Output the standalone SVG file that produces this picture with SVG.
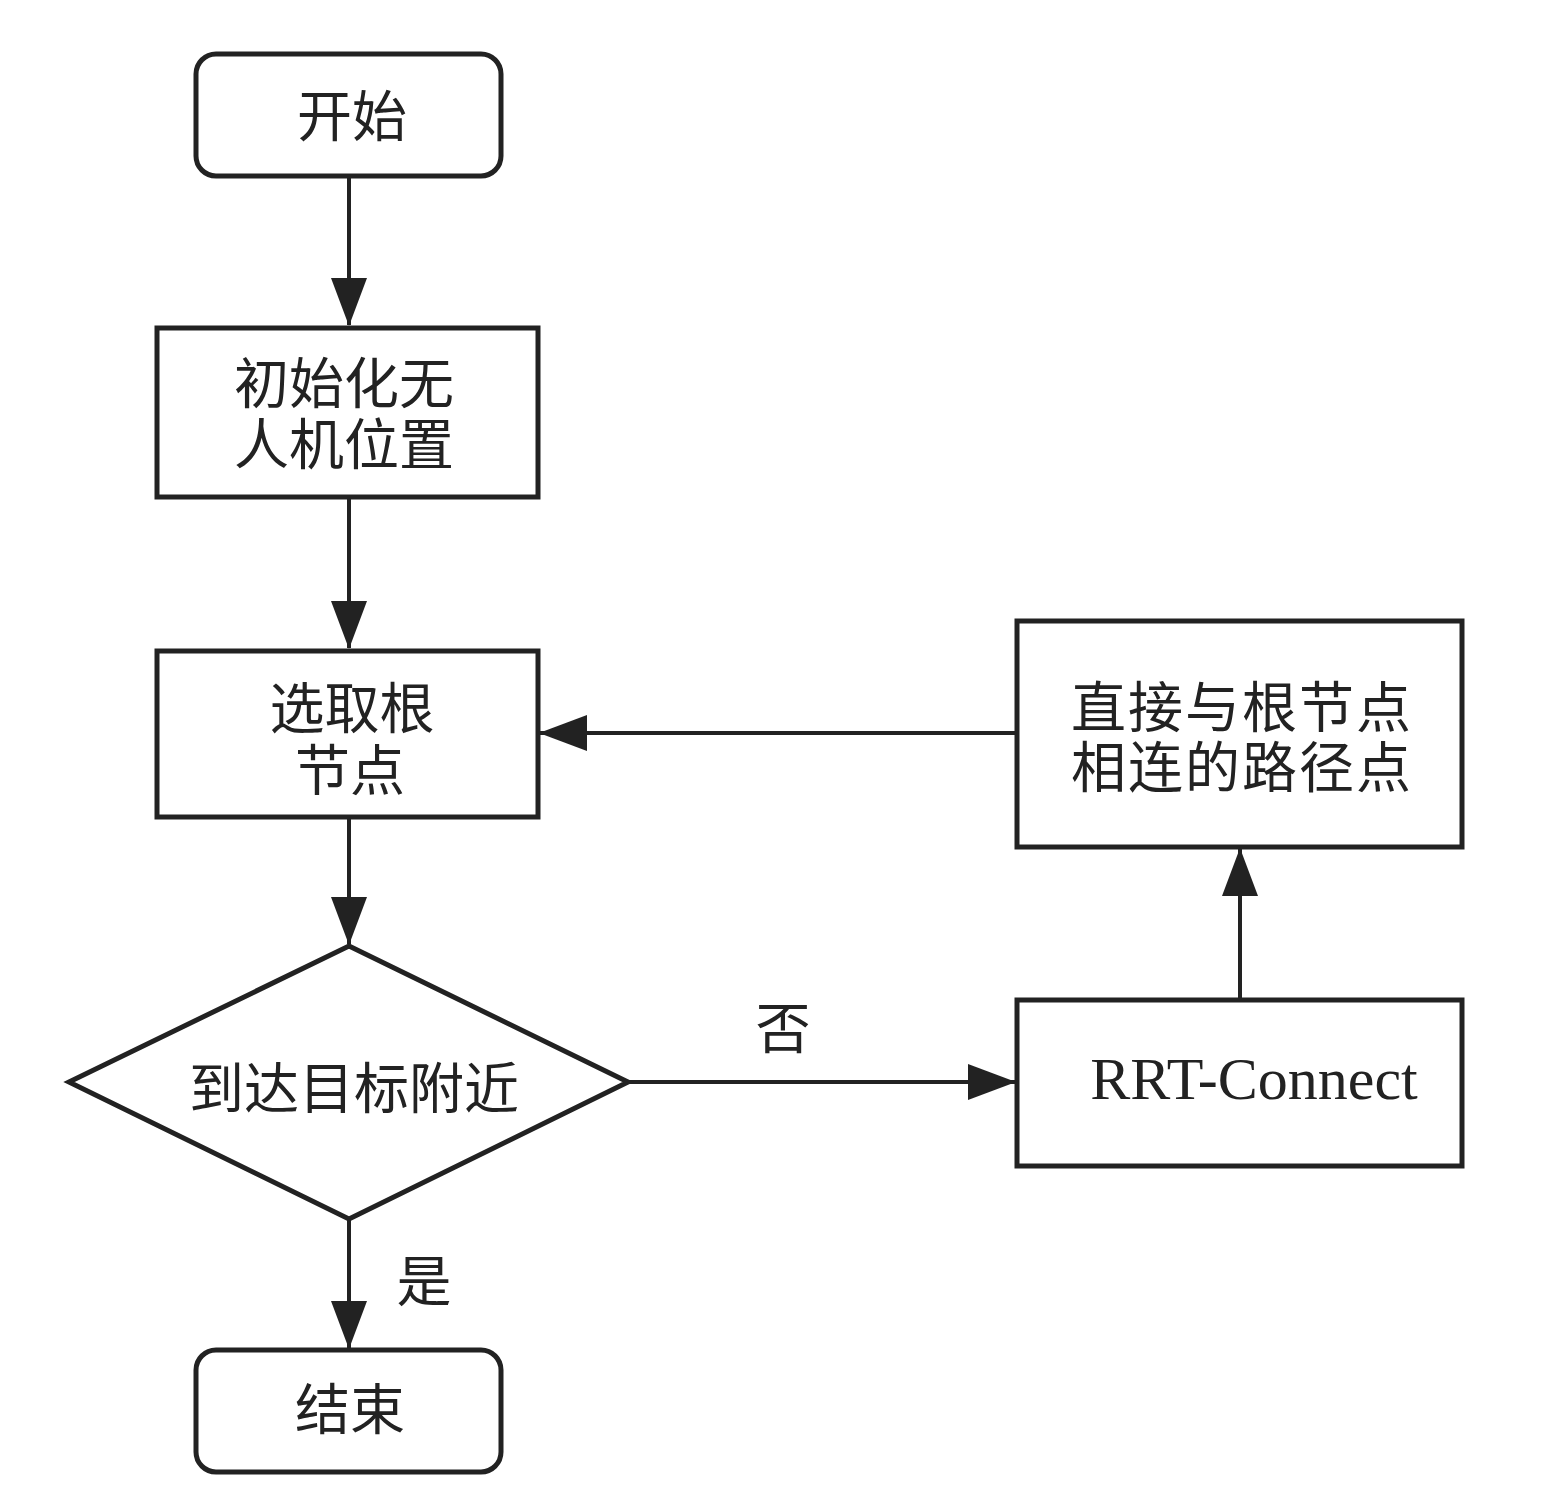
<svg xmlns="http://www.w3.org/2000/svg" width="1542" height="1493" viewBox="0 0 1542 1493">
<defs>
<marker id="arr" markerWidth="48" markerHeight="36" refX="47" refY="18" viewBox="0 0 48 36" markerUnits="userSpaceOnUse" orient="auto">
<path d="M0,0 L48,18 L0,36 Z" fill="#222"/>
</marker>
<style>
.box{fill:#fff;stroke:#222;stroke-width:5}
.t{font-family:"Noto Sans CJK SC","Noto Sans",sans-serif;font-size:55px;fill:#222;text-anchor:middle;dominant-baseline:central}
.e{font-family:"Liberation Serif",serif;font-size:60px;fill:#222;text-anchor:middle;dominant-baseline:central}
.c{fill:none;stroke:#222;stroke-width:4}
</style>
</defs>
<rect width="1542" height="1493" fill="#fff"/>
<g id="connectors">
<line class="c" x1="349" y1="177" x2="349" y2="325" marker-end="url(#arr)"/>
<line class="c" x1="349" y1="498" x2="349" y2="648" marker-end="url(#arr)"/>
<line class="c" x1="349" y1="818" x2="349" y2="944" marker-end="url(#arr)"/>
<line class="c" x1="349" y1="1220" x2="349" y2="1348" marker-end="url(#arr)"/>
<line class="c" x1="628" y1="1082" x2="1015" y2="1082" marker-end="url(#arr)"/>
<line class="c" x1="1240" y1="998" x2="1240" y2="849" marker-end="url(#arr)"/>
<line class="c" x1="1015" y1="733" x2="540" y2="733" marker-end="url(#arr)"/>
<text class="t" x="783" y="1024">否</text>
<text class="t" x="424" y="1277">是</text>
</g>
<g id="start">
<rect class="box" x="196" y="54" width="305" height="122" rx="20"/>
<text class="t" x="352" y="112">开始</text>
</g>
<g id="init">
<rect class="box" x="157" y="328" width="381" height="169"/>
<text class="t" x="344" y="379">初始化无</text>
<text class="t" x="344" y="440">人机位置</text>
</g>
<g id="root">
<rect class="box" x="157" y="651" width="381" height="166"/>
<text class="t" x="352" y="704">选取根</text>
<text class="t" x="350" y="766">节点</text>
</g>
<g id="decision">
<polygon class="box" points="349,946 628,1082 349,1219 69,1082"/>
<text class="t" x="354" y="1084">到达目标附近</text>
</g>
<g id="end">
<rect class="box" x="196" y="1350" width="305" height="122" rx="20"/>
<text class="t" x="350" y="1405">结束</text>
</g>
<g id="path">
<rect class="box" x="1017" y="621" width="445" height="226"/>
<text class="t" x="1242" y="703" letter-spacing="2">直接与根节点</text>
<text class="t" x="1242" y="763" letter-spacing="2">相连的路径点</text>
</g>
<g id="rrt">
<rect class="box" x="1017" y="1000" width="445" height="166"/>
<text class="e" x="1254" y="1079">RRT-Connect</text>
</g>
</svg>
